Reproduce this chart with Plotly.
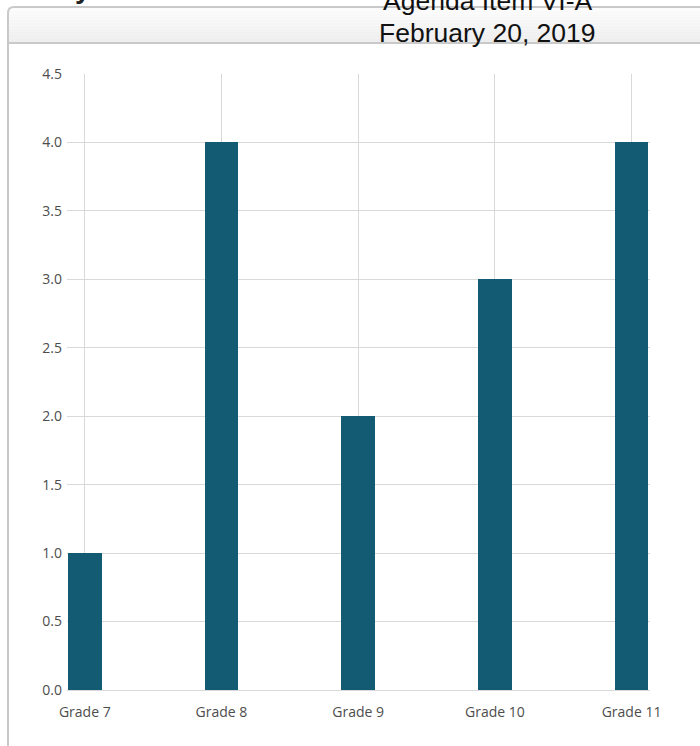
import plotly.graph_objects as go

# Chart data
grades = ["Grade 7", "Grade 8", "Grade 9", "Grade 10", "Grade 11"]
counts = [1, 4, 2, 3, 4]
y_ticks = [0.0, 0.5, 1.0, 1.5, 2.0, 2.5, 3.0, 3.5, 4.0, 4.5]
header_lines = ["Agenda Item VI-A", "February 20, 2019"]

BAR = "#135b72"
GRID = "#d9d9d9"
FRAME = "#c9c9c9"
TICK_FONT = dict(family="Open Sans, Lato, sans-serif", size=14, color="#4d4d4d")
HEAD_FONT = dict(family="Liberation Sans, Arial", size=26.5, color="#111111")

# plot area in pixels (figure is 700 x 746)
W, H = 700, 746
L, R, T, B = 67, 50, 74, 56
pw, ph = W - L - R, H - T - B


def px_x(px):
    return (px - L) / pw


def px_y(py):
    return (H - B - py) / ph


fig = go.Figure(
    go.Bar(
        x=list(range(len(grades))),
        y=counts,
        width=0.245,
        marker=dict(color=BAR, line=dict(width=0)),
        hoverinfo="x+y",
    )
)

shapes = []
# header band with a soft vertical gradient
top, bottom = 8, 43
steps = 12
for i in range(steps):
    y0 = top + (bottom - top) * i / steps
    y1 = top + (bottom - top) * (i + 1) / steps
    g = int(252 - 14 * i / (steps - 1))
    shapes.append(dict(
        type="rect", xref="paper", yref="paper", layer="below",
        x0=px_x(9), x1=px_x(710), y0=px_y(y1), y1=px_y(y0),
        fillcolor=f"rgb({g},{g},{g})", line=dict(width=0),
    ))
# outer frame: left edge, rounded corner, top edge
r = 6
fx, fy = 8, 7
frame_path = (
    f"M {px_x(fx)},{px_y(760)} L {px_x(fx)},{px_y(fy + r)} "
    f"Q {px_x(fx)},{px_y(fy)} {px_x(fx + r)},{px_y(fy)} "
    f"L {px_x(710)},{px_y(fy)}"
)
shapes.append(dict(type="path", xref="paper", yref="paper", path=frame_path,
                   line=dict(color=FRAME, width=2)))
# separator under the header
shapes.append(dict(type="line", xref="paper", yref="paper",
                   x0=px_x(9), x1=px_x(710), y0=px_y(43), y1=px_y(43),
                   line=dict(color=FRAME, width=2)))

annotations = [
    dict(text=header_lines[0], xref="paper", yref="paper",
         x=px_x(487), y=px_y(1), xanchor="center", yanchor="middle",
         showarrow=False, font=HEAD_FONT),
    dict(text=header_lines[1], xref="paper", yref="paper",
         x=px_x(487), y=px_y(33), xanchor="center", yanchor="middle",
         showarrow=False, font=HEAD_FONT),
    dict(text="<b>y</b>", xref="paper", yref="paper",
         x=px_x(83), y=px_y(-12), xanchor="center", yanchor="middle",
         showarrow=False,
         font=dict(family="Liberation Sans, Arial", size=28, color="#222222")),
]

fig.update_layout(
    width=W, height=H,
    margin=dict(l=L, r=R, t=T, b=B, pad=0),
    paper_bgcolor="white",
    plot_bgcolor="white",
    showlegend=False,
    bargap=0,
    shapes=shapes,
    annotations=annotations,
    xaxis=dict(
        range=[-0.13, 4.135],
        tickmode="array",
        tickvals=list(range(len(grades))),
        ticktext=grades,
        showgrid=True, gridcolor=GRID, gridwidth=1,
        zeroline=False,
        showline=True, linecolor=GRID, linewidth=1,
        ticks="", tickfont=TICK_FONT,
        ticklabelstandoff=9,
        fixedrange=True,
    ),
    yaxis=dict(
        range=[0, 4.5],
        tickmode="array",
        tickvals=y_ticks,
        ticktext=[f"{v:.1f}" for v in y_ticks],
        showgrid=True, gridcolor=GRID, gridwidth=1,
        zeroline=False,
        showline=False,
        ticks="", tickfont=TICK_FONT,
        ticklabelstandoff=4,
        fixedrange=True,
    ),
)

fig.write_html("out.html", config={"displayModeBar": False})
